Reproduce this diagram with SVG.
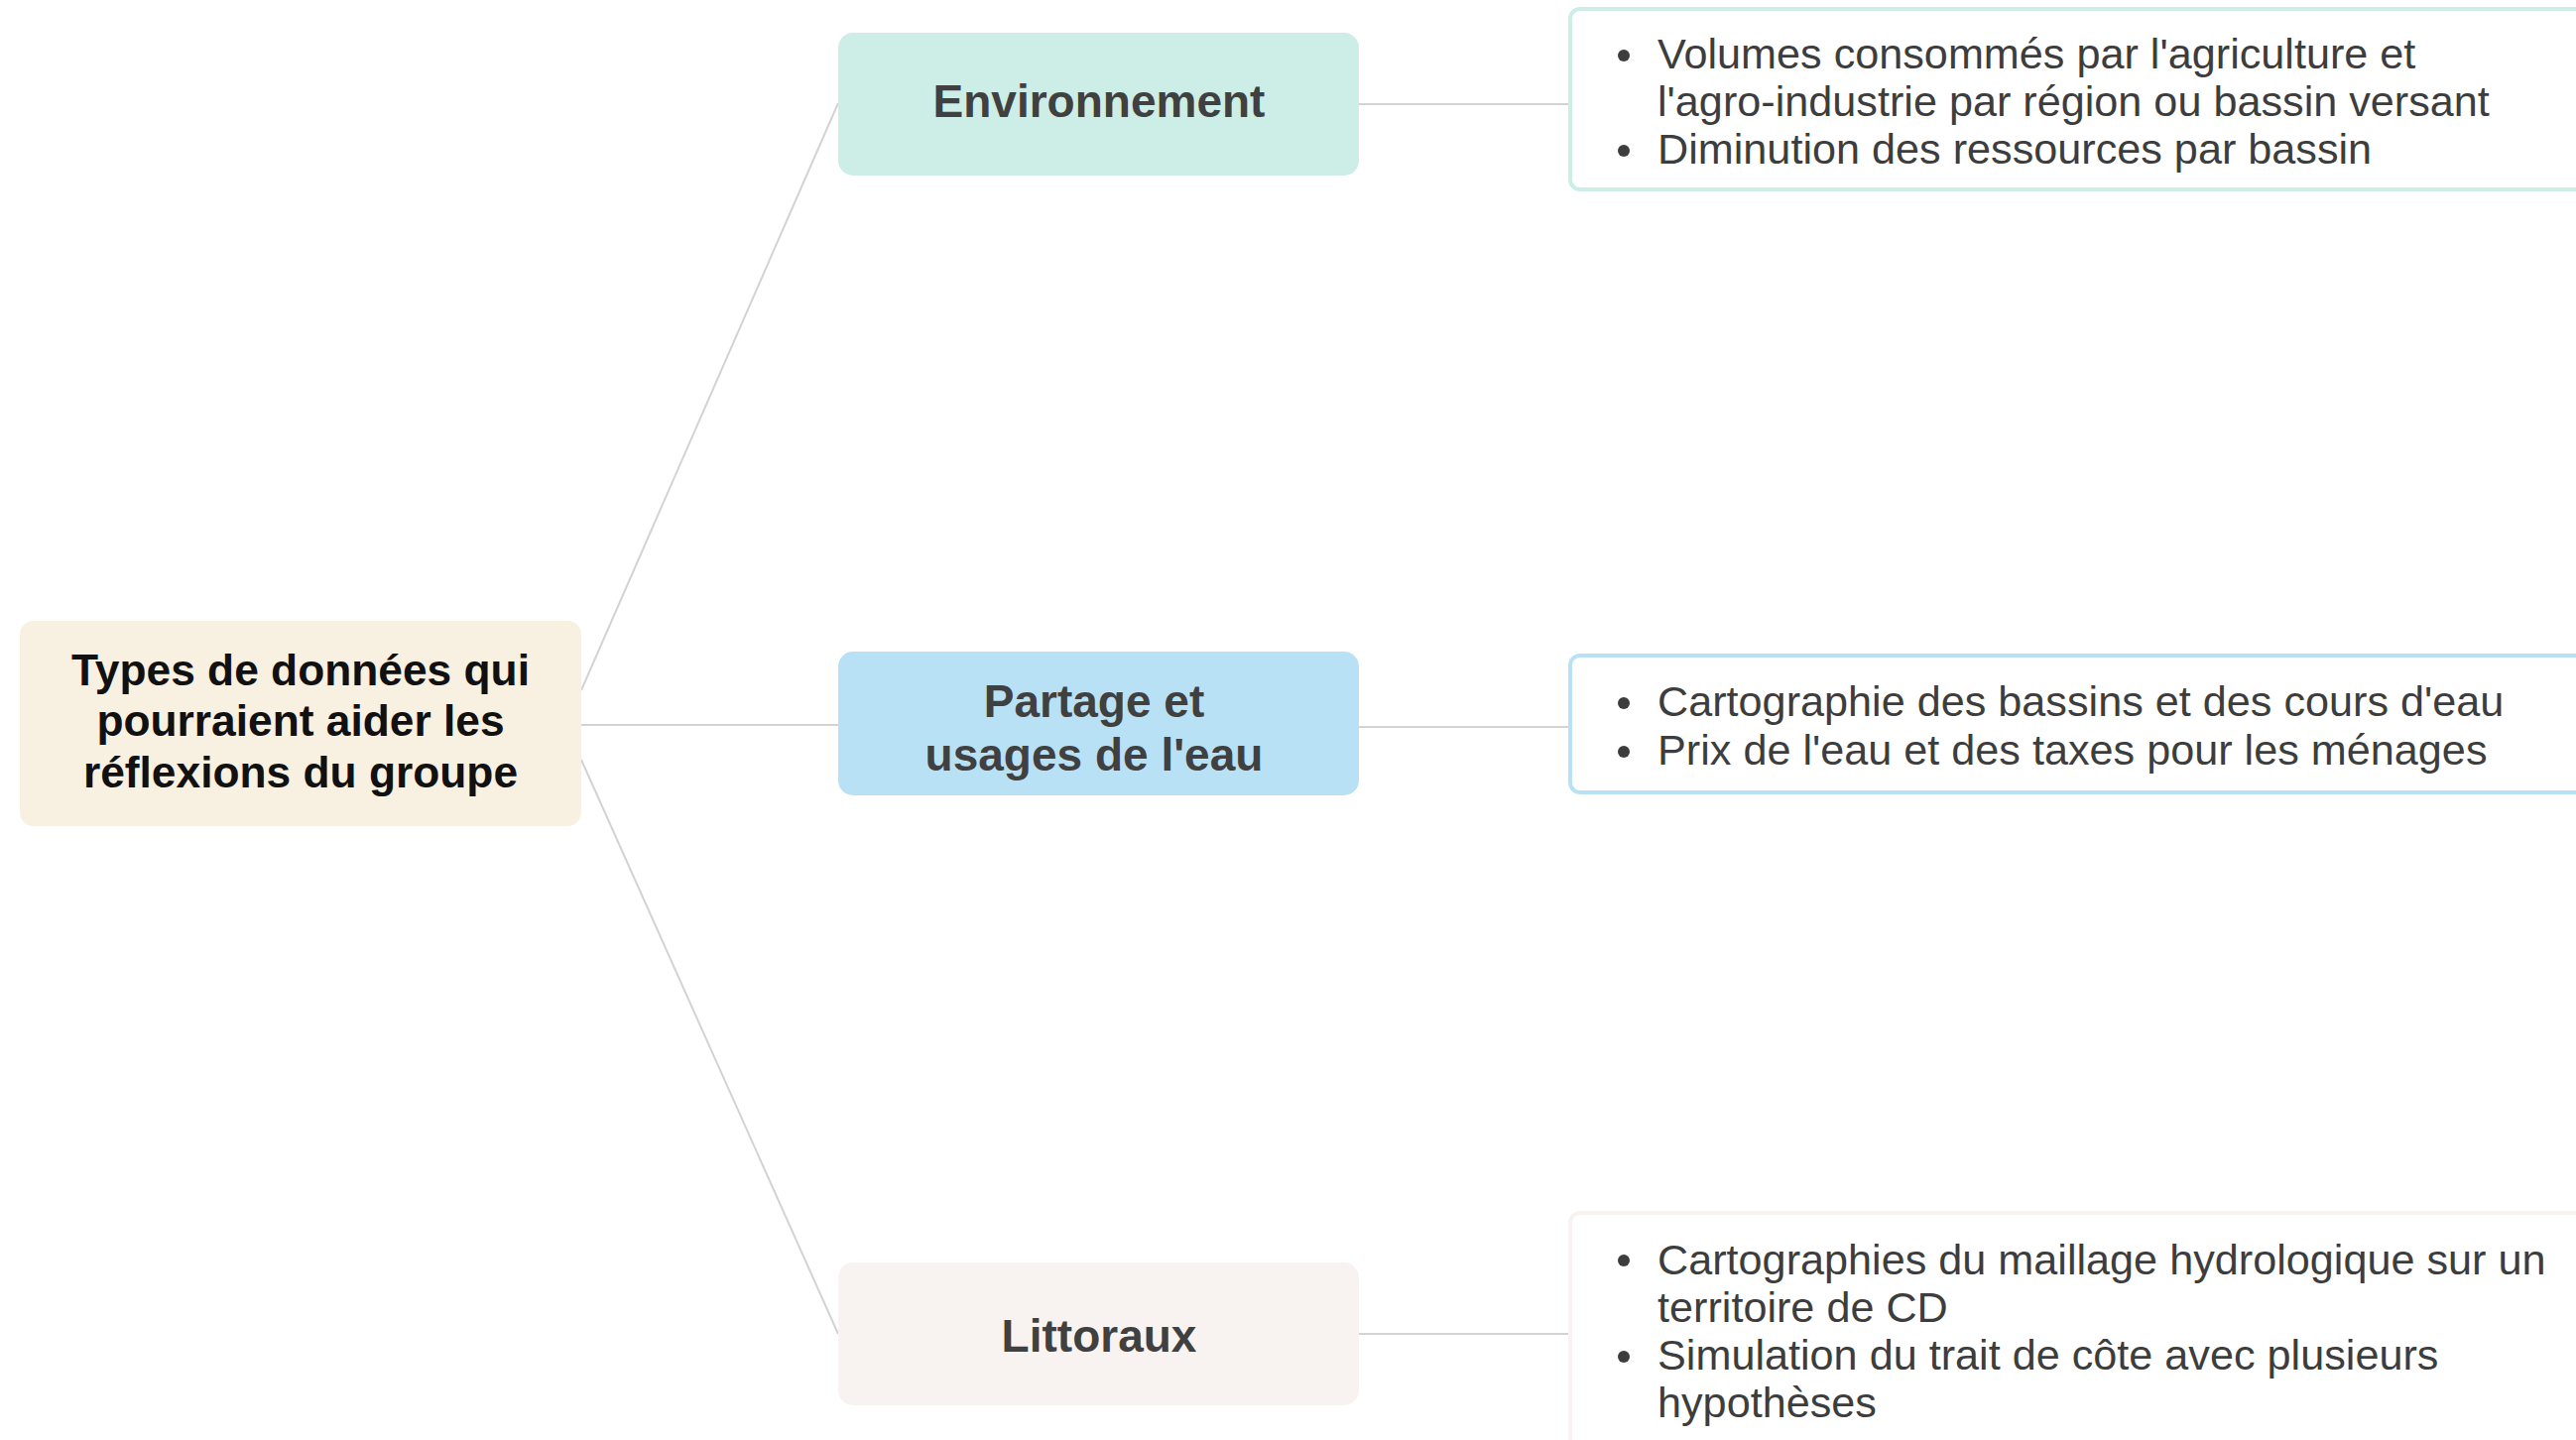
<svg xmlns="http://www.w3.org/2000/svg" width="2597" height="1452" viewBox="0 0 2597 1452">
<style>
.conn{stroke:#d3d3d3;stroke-width:2;fill:none}
.root-t{font-family:"Liberation Sans",Arial,sans-serif;font-weight:bold;font-size:44.3px;fill:#111111;text-anchor:middle}
.child-t{font-family:"Liberation Sans",Arial,sans-serif;font-weight:bold;font-size:46px;fill:#404040;text-anchor:middle}
.det-t{font-family:"Liberation Sans",Arial,sans-serif;font-size:43.2px;fill:#3d3d3d}
.bul{fill:#3d3d3d}
.det{fill:#ffffff;stroke-width:4}
</style>
<rect width="2597" height="1452" fill="#ffffff"/>
<g id="connectors">
<line class="conn" x1="586" y1="696" x2="845" y2="104"/>
<line class="conn" x1="586" y1="731" x2="845" y2="731"/>
<line class="conn" x1="586" y1="766" x2="845" y2="1345"/>
<line class="conn" x1="1370" y1="105" x2="1583" y2="105"/>
<line class="conn" x1="1370" y1="733" x2="1583" y2="733"/>
<line class="conn" x1="1370" y1="1345" x2="1583" y2="1345"/>
</g>
<g id="root">
<rect x="20" y="626" width="566" height="207" rx="14" fill="#f8f0e1"/>
<text class="root-t" x="303" y="691">Types de données qui</text>
<text class="root-t" x="303" y="742">pourraient aider les</text>
<text class="root-t" x="303" y="794">réflexions du groupe</text>
</g>
<g id="environnement">
<rect x="845" y="33" width="525" height="144" rx="15" fill="#cceee7"/>
<text class="child-t" x="1108" y="118">Environnement</text>
</g>
<g id="partage">
<rect x="845" y="657" width="525" height="145" rx="15" fill="#b9e1f6"/>
<text class="child-t" x="1103" y="723">Partage et</text>
<text class="child-t" x="1103" y="777">usages de l'eau</text>
</g>
<g id="littoraux">
<rect x="845" y="1273" width="525" height="144" rx="15" fill="#f8f3f1"/>
<text class="child-t" x="1108" y="1363">Littoraux</text>
</g>
<g id="detail-environnement">
<rect class="det" x="1583" y="9" width="1040" height="182" rx="10" stroke="#cceee7"/>
<circle class="bul" cx="1637" cy="56" r="6"/>
<text class="det-t" x="1671" y="69">Volumes consommés par l'agriculture et</text>
<text class="det-t" x="1671" y="117">l'agro-industrie par région ou bassin versant</text>
<circle class="bul" cx="1637" cy="152" r="6"/>
<text class="det-t" x="1671" y="165">Diminution des ressources par bassin</text>
</g>
<g id="detail-partage">
<rect class="det" x="1583" y="661" width="1040" height="138" rx="10" stroke="#b9e1f6"/>
<circle class="bul" cx="1637" cy="709" r="6"/>
<text class="det-t" x="1671" y="722">Cartographie des bassins et des cours d'eau</text>
<circle class="bul" cx="1637" cy="758" r="6"/>
<text class="det-t" x="1671" y="771">Prix de l'eau et des taxes pour les ménages</text>
</g>
<g id="detail-littoraux">
<rect class="det" x="1583" y="1223" width="1040" height="260" rx="10" stroke="#f8f3f1"/>
<circle class="bul" cx="1637" cy="1271" r="6"/>
<text class="det-t" x="1671" y="1285">Cartographies du maillage hydrologique sur un</text>
<text class="det-t" x="1671" y="1333">territoire de CD</text>
<circle class="bul" cx="1637" cy="1368" r="6"/>
<text class="det-t" x="1671" y="1381">Simulation du trait de côte avec plusieurs</text>
<text class="det-t" x="1671" y="1429">hypothèses</text>
</g>
</svg>
